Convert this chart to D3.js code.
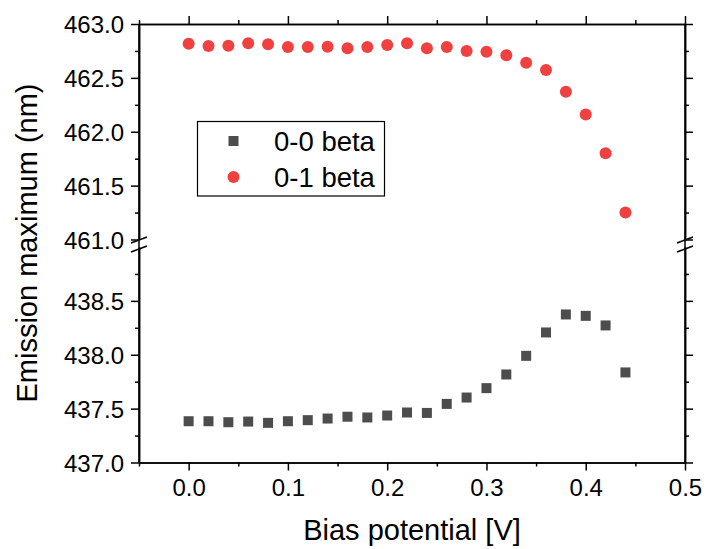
<!DOCTYPE html>
<html>
<head>
<meta charset="utf-8">
<script src="https://cdn.jsdelivr.net/npm/d3@7"></script>
<style>
  body { margin: 0; background: #fff; }
  svg text { font-family: Arial, "Liberation Sans", sans-serif; fill: #000; }
  .axis path, .axis line { stroke: #000; stroke-width: 1.5; }
</style>
</head>
<body>
<div id="chart"></div>
<script>
// bias potential (V)
var biasV = [0.00, 0.02, 0.04, 0.06, 0.08, 0.10, 0.12, 0.14, 0.16, 0.18, 0.20, 0.22,
             0.24, 0.26, 0.28, 0.30, 0.32, 0.34, 0.36, 0.38, 0.40, 0.42, 0.44];
// emission maximum (nm)
var beta00 = [437.383, 437.383, 437.374, 437.380, 437.368, 437.383, 437.393, 437.408, 437.425, 437.418, 437.436, 437.464,
              437.460, 437.544, 437.603, 437.690, 437.817, 437.990, 438.207, 438.374, 438.361, 438.272, 437.836];
var beta01 = [462.817, 462.796, 462.799, 462.821, 462.812, 462.786, 462.786, 462.789, 462.774, 462.786, 462.805, 462.821,
              462.774, 462.786, 462.749, 462.743, 462.709, 462.641, 462.573, 462.371, 462.161, 461.800, 461.250];

var xMajor = [0, 0.1, 0.2, 0.3, 0.4, 0.5];
var xMinor = [-0.05, 0.05, 0.15, 0.25, 0.35, 0.45];
var yTopMajor = [461, 461.5, 462, 462.5, 463];
var yTopMinor = [461.25, 461.75, 462.25, 462.75];
var yBotMajor = [437, 437.5, 438, 438.5];
var yBotMinor = [437.25, 437.75, 438.25, 438.75];
var seriesNames = ["0-0 beta", "0-1 beta"];
var colors = ["#4d4d4d", "#f04040"];

var W = 707, H = 549;
var mLeft = 139, mRight = 685, mTop = 24, mBottom = 462.5;
var topEnd = 239.5, botStart = 247;

var svg = d3.select("#chart").append("svg")
    .attr("width", W)
    .attr("height", H);

var x = d3.scaleLinear().domain([-0.05, 0.5]).range([mLeft, mRight]);
var yTop = d3.scaleLinear().domain([461, 463]).range([topEnd, mTop]);
var yBot = d3.scaleLinear().domain([437, 439]).range([mBottom, botStart]);

// axes: major + minor ticks, all pointing outward
function addAxis(axisFn, scale, vals, size, tr, labels) {
  var g = svg.append("g")
      .attr("class", "axis")
      .attr("transform", tr)
      .call(axisFn(scale).tickValues(vals).tickSize(size).tickSizeOuter(0)
        .tickFormat(labels ? d3.format(".1f") : ""));
  g.selectAll("text").style("font-size", "24px");
  return g;
}

var bx = addAxis(d3.axisBottom, x, xMajor, 8, "translate(0," + mBottom + ")", true);
bx.selectAll("text").attr("y", 16).attr("dy", "0.71em");
addAxis(d3.axisBottom, x, xMinor, 4, "translate(0," + mBottom + ")", false);
addAxis(d3.axisTop, x, xMajor, 8, "translate(0," + mTop + ")", false);
addAxis(d3.axisTop, x, xMinor, 4, "translate(0," + mTop + ")", false);

[[yTop, yTopMajor, yTopMinor], [yBot, yBotMajor, yBotMinor]].forEach(function(p) {
  var ly = addAxis(d3.axisLeft, p[0], p[1], 8, "translate(" + mLeft + ",0)", true);
  ly.selectAll("text").attr("x", -15).attr("dy", "0.36em");
  addAxis(d3.axisLeft, p[0], p[2], 4, "translate(" + mLeft + ",0)", false);
  addAxis(d3.axisRight, p[0], p[1], 8, "translate(" + mRight + ",0)", false);
  addAxis(d3.axisRight, p[0], p[2], 4, "translate(" + mRight + ",0)", false);
});

// continuous side lines through the break
[mLeft, mRight].forEach(function(xx) {
  svg.append("line")
      .attr("x1", xx).attr("x2", xx)
      .attr("y1", mTop).attr("y2", mBottom)
      .attr("stroke", "#000").attr("stroke-width", 1.5);
});

// break marks
[mLeft, mRight].forEach(function(xx) {
  [240, 249].forEach(function(yy) {
    svg.append("line")
        .attr("x1", xx - 8).attr("y1", yy + 3)
        .attr("x2", xx + 8).attr("y2", yy - 3)
        .attr("stroke", "#000").attr("stroke-width", 1.5);
  });
});

// points
svg.append("g").selectAll("rect")
    .data(biasV)
  .enter().append("rect")
    .attr("x", function(d) { return x(d) - 5; })
    .attr("y", function(d, i) { return yBot(beta00[i]) - 5; })
    .attr("width", 10)
    .attr("height", 10)
    .attr("fill", colors[0]);

svg.append("g").selectAll("circle")
    .data(biasV)
  .enter().append("circle")
    .attr("cx", function(d) { return x(d); })
    .attr("cy", function(d, i) { return yTop(beta01[i]); })
    .attr("r", 6)
    .attr("fill", colors[1]);

// legend
var lg = svg.append("g");
lg.append("rect")
    .attr("x", 197.5).attr("y", 121.5)
    .attr("width", 187).attr("height", 74.5)
    .attr("fill", "#fff").attr("stroke", "#000").attr("stroke-width", 1.2);
lg.append("rect")
    .attr("x", 228.5).attr("y", 136)
    .attr("width", 10).attr("height", 10)
    .attr("fill", colors[0]);
lg.append("circle")
    .attr("cx", 233.5).attr("cy", 177)
    .attr("r", 6)
    .attr("fill", colors[1]);
seriesNames.forEach(function(s, i) {
  lg.append("text")
      .attr("x", 274)
      .attr("y", 151 + i * 36)
      .style("font-size", "27.5px")
      .text(s);
});

// axis titles
svg.append("text")
    .attr("x", 412)
    .attr("y", 540)
    .attr("text-anchor", "middle")
    .style("font-size", "29px")
    .text("Bias potential [V]");

svg.append("text")
    .attr("transform", "translate(37," + 243 + ") rotate(-90)")
    .attr("text-anchor", "middle")
    .style("font-size", "29px")
    .text("Emission maximum (nm)");
</script>
</body>
</html>
